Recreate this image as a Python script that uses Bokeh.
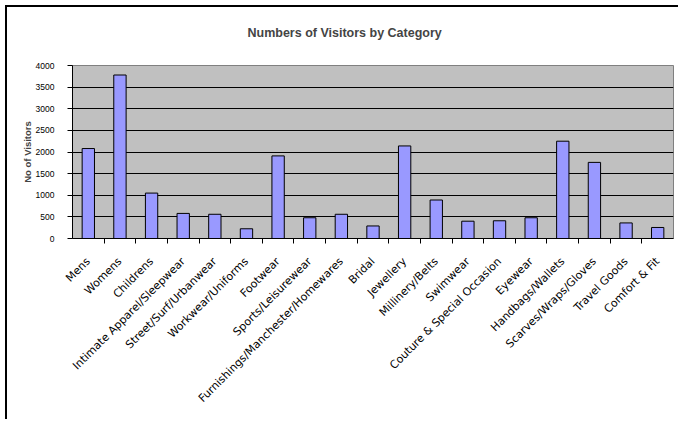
import math
from bokeh.plotting import figure
from bokeh.models import (Range1d, FixedTicker, LinearAxis, CategoricalAxis,
                          ColumnDataSource, Title, FactorRange)
from bokeh.embed import file_html
from bokeh.resources import INLINE

categories = ["Mens", "Womens", "Childrens", "Intimate Apparel/Sleepwear",
              "Street/Surf/Urbanwear", "Workwear/Uniforms", "Footwear",
              "Sports/Leisurewear", "Furnishings/Manchester/Homewares", "Bridal",
              "Jewellery", "Millinery/Belts", "Swimwear",
              "Couture & Special Occasion", "Eyewear", "Handbags/Wallets",
              "Scarves/Wraps/Gloves", "Travel Goods", "Comfort & Fit"]
visitors = [2080, 3780, 1050, 580, 560, 225, 1910, 480, 560, 290,
            2140, 890, 400, 410, 480, 2250, 1760, 360, 255]
y_ticks = [0, 500, 1000, 1500, 2000, 2500, 3000, 3500, 4000]

title_text = "Numbers of Visitors by Category"
y_label = "No of Visitors"

src = ColumnDataSource(dict(cat=categories, val=visitors))

p = figure(x_range=FactorRange(factors=categories), y_range=Range1d(0, 4000),
           width=673, height=414, output_backend="svg", toolbar_location=None,
           x_axis_location=None, y_axis_location=None,
           min_border_left=65, min_border_right=7, min_border_top=58,
           min_border_bottom=183)
p.styles = {"margin-left": "7px", "margin-top": "7px",
            "box-shadow": "-2px -2px 0px 0px black"}

p.background_fill_color = "#C0C0C0"
p.border_fill_color = "white"
p.outline_line_color = "#808080"
p.outline_line_width = 1

p.vbar(x="cat", top="val", width=0.39, source=src,
       fill_color="#9999FF", line_color="black", line_width=1)

# y axis
yax = LinearAxis(ticker=FixedTicker(ticks=y_ticks), axis_label=y_label)
yax.major_label_text_font = "Liberation Sans"
yax.major_label_text_font_size = "8.5px"
yax.major_label_text_color = "black"
yax.major_tick_out = 5
yax.major_tick_in = 0
yax.minor_tick_line_color = None
yax.major_label_standoff = 13
yax.axis_line_color = "black"
yax.axis_label_text_font = "Liberation Sans"
yax.axis_label_text_font_size = "9.5px"
yax.axis_label_text_font_style = "bold"
yax.axis_label_standoff = 0
p.add_layout(yax, "left")

# grid
p.xgrid.grid_line_color = None
p.ygrid.ticker = FixedTicker(ticks=y_ticks[1:-1])
p.ygrid.grid_line_color = "black"
p.ygrid.grid_line_width = 1

# tick marks between categories: boundary factors mapped onto category edges
bounds = ["b%d" % i for i in range(len(categories) + 1)]
p.extra_x_ranges = {"edges": FactorRange(factors=bounds, range_padding=-0.5,
                                         range_padding_units="absolute")}
tax = CategoricalAxis(x_range_name="edges")
tax.major_label_text_font_size = "0px"
tax.major_label_text_color = None
tax.major_label_standoff = 0
tax.major_tick_out = 5
tax.major_tick_in = 0
tax.axis_line_color = "black"
p.add_layout(tax, "below")

# category labels
cax = CategoricalAxis()
cax.major_label_orientation = math.pi / 4
cax.major_label_text_font = "DejaVu Sans"
cax.major_label_text_font_size = "11px"
cax.major_label_text_color = "black"
cax.major_tick_line_color = None
cax.axis_line_color = None
cax.major_label_standoff = 10
p.add_layout(cax, "below")

p.title = Title(text=title_text, align="left", offset=175,
                text_font="Liberation Sans", text_font_size="12.5px",
                text_font_style="bold")
# blank spacer between the title and the plot area
p.add_layout(Title(text=" ", text_font_size="8px"), "above")

open("out.html", "w").write(file_html(p, INLINE))
